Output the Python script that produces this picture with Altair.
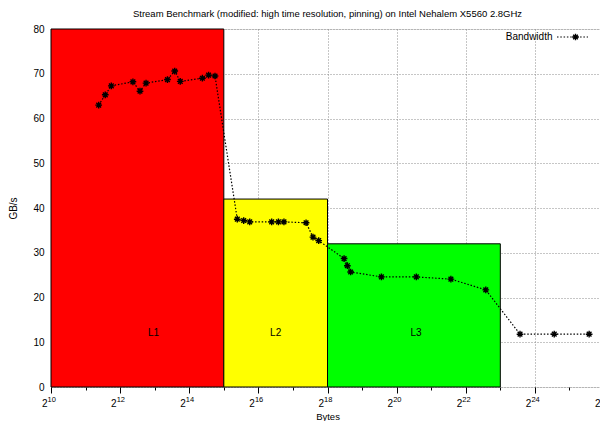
import altair as alt
import pandas as pd

# Measured data (bytes, GB/s)
sizes = [2665, 3040, 3432, 5294, 6102, 6889, 10587, 12245, 13682, 21321, 24155, 27460,
         42926, 48815, 55109, 85584, 97963, 109459, 170567, 195927, 219676,
         365613, 390516, 417098, 772962, 1556611, 3113222, 6269644,
         12452889, 24734650, 49811556]
bandwidth = [63.0, 65.3, 67.3, 68.2, 66.1, 67.9, 68.7, 70.6, 68.3, 69.0, 69.7, 69.5,
             37.5, 37.2, 36.9, 36.9, 36.9, 36.9, 36.7, 33.5, 32.7,
             28.7, 27.1, 25.7, 24.6, 24.6, 24.1, 21.7,
             11.8, 11.8, 11.8]

# Cache regions
cache_names = ["L1", "L2", "L3"]
cache_start = [2**10, 2**15, 2**18]
cache_end = [2**15, 2**18, 2**23]
cache_height = [80, 42, 32]
cache_colors = ["#ff0000", "#ffff00", "#00ff00"]
label_x = [8000, 92700, 1550000]
label_y = [12, 12, 12]

tick_exps = list(range(10, 27))
label_exps = list(range(10, 27, 2))

FONT = "Liberation Sans"
W, H = 553, 358

df = pd.DataFrame({"bytes": sizes, "bw": bandwidth})
rects = pd.DataFrame({"name": cache_names, "x0": cache_start, "x1": cache_end,
                      "y0": [0, 0, 0], "y1": cache_height})
labels = pd.DataFrame({"name": cache_names, "x": label_x, "y": label_y})
exps = pd.DataFrame({"e": label_exps, "base": ["2"] * len(label_exps)})

even_test = "round(log(datum.value)/LN2) % 2 == 0"

xscale = alt.Scale(type="log", base=2, domain=[2**10, 2**26], nice=False)
yscale = alt.Scale(domain=[0, 80], nice=False)

xaxis = alt.Axis(
    title="Bytes", values=[2**e for e in tick_exps], labels=False,
    domain=False, tickColor="black",
    tickSize={"condition": {"test": even_test, "value": 6}, "value": 3},
    grid=True, gridDash=[1, 2], gridColor="#8c8c8c",
    gridOpacity={"condition": {"test": even_test, "value": 1}, "value": 0},
    titleFont=FONT, titleFontSize=9.5, titleFontWeight="normal", titleColor="black",
    titleY=29.5, titleBaseline="middle",
)
yaxis = alt.Axis(
    title="GB/s", values=list(range(0, 81, 10)), ticks=False, domain=False,
    labelFont=FONT, labelFontSize=10, labelColor="black", labelPadding=7,
    grid=True, gridDash=[1, 2], gridColor="#8c8c8c",
    titleFont=FONT, titleFontSize=10, titleFontWeight="normal", titleColor="black",
    titleX=-37.5, titleBaseline="middle",
)

rect_layer = alt.Chart(rects).mark_rect(stroke="black", strokeWidth=1).encode(
    x=alt.X("x0:Q", scale=xscale, axis=xaxis),
    x2="x1:Q",
    y=alt.Y("y0:Q", scale=yscale, axis=yaxis),
    y2="y1:Q",
    color=alt.Color("name:N", scale=alt.Scale(domain=cache_names, range=cache_colors), legend=None),
)

label_layer = alt.Chart(labels).mark_text(font=FONT, fontSize=10, color="black").encode(
    x=alt.X("x:Q", scale=xscale), y=alt.Y("y:Q", scale=yscale), text="name:N"
)

line_layer = alt.Chart(df).mark_line(color="black", strokeWidth=1.2, strokeDash=[1.5, 1.8]).encode(
    x=alt.X("bytes:Q", scale=xscale), y=alt.Y("bw:Q", scale=yscale)
)

STAR = "M-1,0L1,0M0,-1L0,1M-0.7,-0.7L0.7,0.7M-0.7,0.7L0.7,-0.7"
point_layer = alt.Chart(df).mark_point(shape=STAR, size=45, color="black", filled=False,
                                       strokeWidth=1.4, opacity=1).encode(
    x=alt.X("bytes:Q", scale=xscale), y=alt.Y("bw:Q", scale=yscale)
)

tick_base = alt.Chart(exps).transform_calculate(v="pow(2, datum.e)")
base_layer = tick_base.mark_text(
    font=FONT, fontSize=10, color="black", align="right", baseline="top", dx=-3.5
).encode(x=alt.X("v:Q", scale=xscale), y=alt.value(H + 12), text="base:N")
exp_layer = tick_base.mark_text(
    font=FONT, fontSize=7.5, color="black", align="left", baseline="top", dx=-3.5
).encode(x=alt.X("v:Q", scale=xscale), y=alt.value(H + 9), text="e:N")

leg_text = alt.Chart(pd.DataFrame({"t": ["Bandwidth"]})).mark_text(
    font=FONT, fontSize=10, color="black", align="right", baseline="middle"
).encode(x=alt.value(501.5), y=alt.value(8), text="t:N")
leg_line = alt.Chart(pd.DataFrame({"t": ["Bandwidth"]})).mark_rule(
    color="black", strokeWidth=1.2, strokeDash=[1.5, 1.8]
).encode(x=alt.value(506), x2=alt.value(537), y=alt.value(8))
leg_point = alt.Chart(pd.DataFrame({"t": ["Bandwidth"]})).mark_point(
    shape=STAR, size=45, color="black", filled=False, strokeWidth=1.4, opacity=1
).encode(x=alt.value(524.5), y=alt.value(8))

chart = alt.layer(
    rect_layer, label_layer, line_layer, point_layer, base_layer, exp_layer,
    leg_text, leg_line, leg_point
).properties(
    width=W, height=H,
    title=alt.TitleParams(
        "Stream Benchmark (modified: high time resolution, pinning) on Intel Nehalem X5560 2.8GHz",
        font=FONT, fontSize=9.5, fontWeight="normal", color="black", offset=6, anchor="middle",
    ),
    autosize=alt.AutoSizeParams(type="none"),
    padding={"left": 43, "top": 21, "right": -4, "bottom": 34},
).configure_view(stroke="black", strokeWidth=1).configure(background="white")

chart.save("out.html", embed_options={"renderer": "svg", "actions": False})
